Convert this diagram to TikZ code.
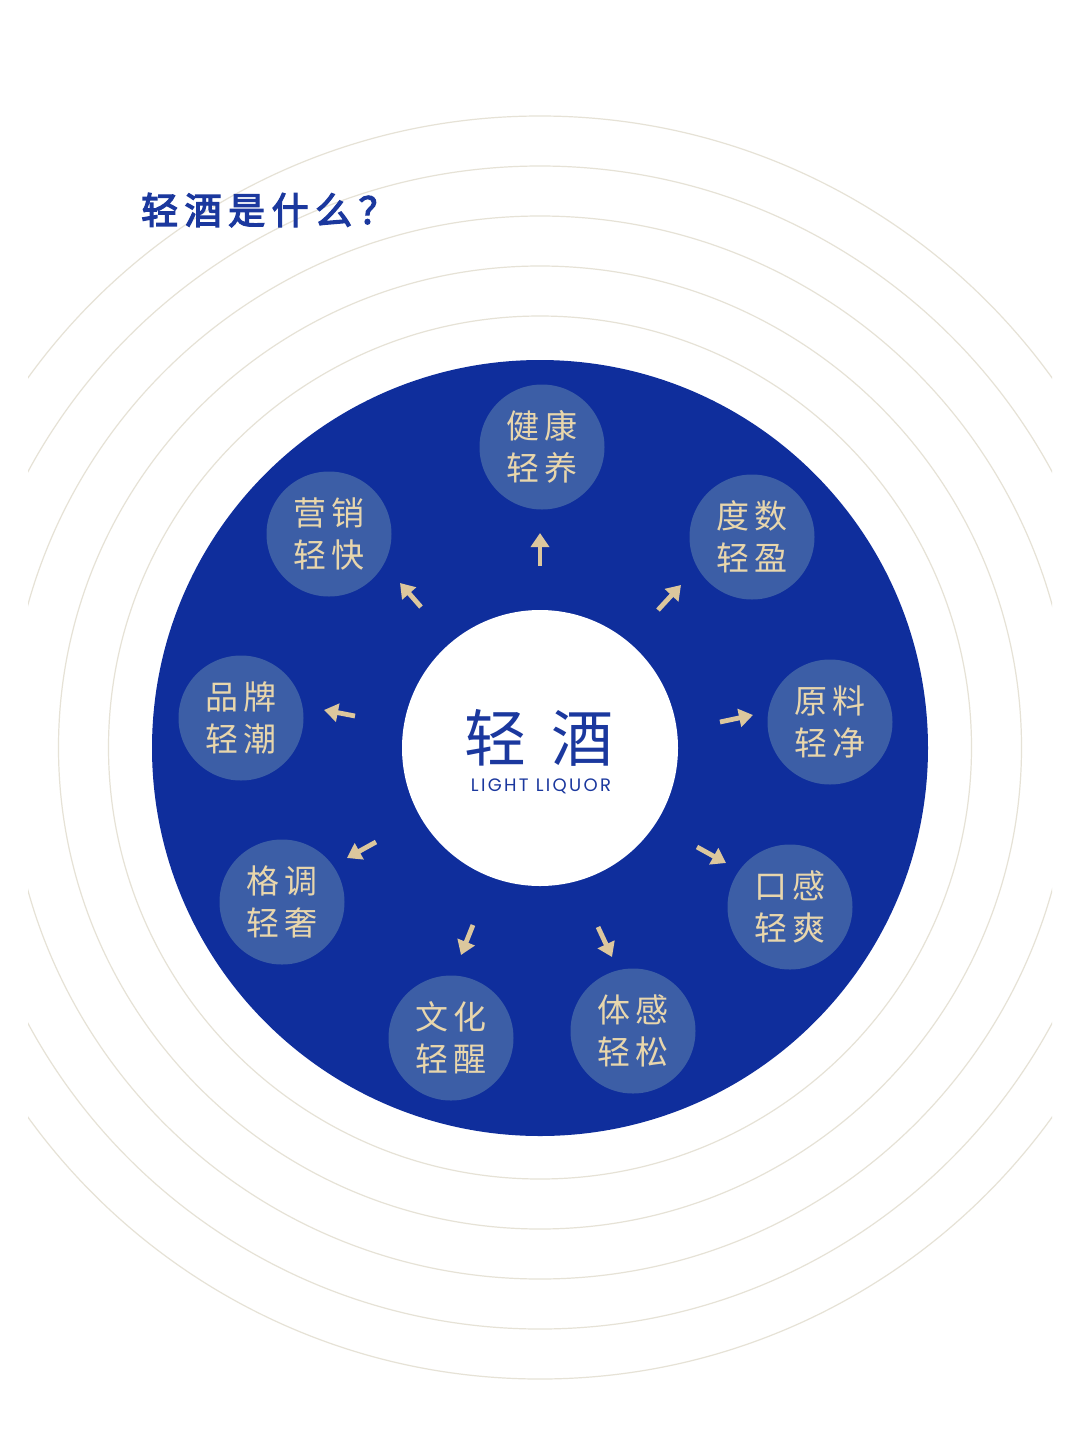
\documentclass[tikz,border=0pt]{standalone}
\usepackage{fontspec}
\usetikzlibrary{arrows.meta}
\newfontfamily\cjk{Noto Sans CJK SC}
\newfontfamily\cjkbold[FakeBold=3.5]{Noto Sans CJK SC}
\newfontfamily\latinf[LetterSpace=13]{Poppins}
\definecolor{deepblue}{HTML}{0F2E9C}
\definecolor{satblue}{HTML}{3C5EA6}
\definecolor{beige}{HTML}{E8D6AC}
\definecolor{arrbeige}{HTML}{DCC79D}
\definecolor{ringc}{HTML}{E6E2D6}
\definecolor{titleblue}{HTML}{1B389E}
\newcommand{\cgap}{\hspace{5pt}}
\newcommand{\tgap}{\hspace{6.5pt}}
\begin{document}
\begin{tikzpicture}[x=1pt,y=-1pt,
  sat/.style={circle, fill=satblue, minimum size=125pt, inner sep=0pt, text=beige,
    font=\cjk\fontsize{33}{42}\selectfont, align=center},
  arr/.style={draw=arrbeige, line width=4.8pt, -{Triangle[width=18pt,length=14pt]}},
  ring/.style={draw=ringc, line width=1.2pt}]
\useasboundingbox (0,0) rectangle (1080,1441);
\fill[white] (0,0) rectangle (1080,1441);
\begin{scope}
  \clip (28,0) rectangle (1052,1441);
  \foreach \r in {431.5,481.5,531.5,581.5,631.5}
    \draw[ring] (540,747.5) circle[radius=\r];
\end{scope}
% title
\node[anchor=west, inner sep=0pt, text=titleblue, font=\cjkbold\fontsize{37}{40}\selectfont] (title) at (141,210)
  {轻\tgap 酒\tgap 是\tgap 什\tgap 么\tgap ？};
% disc
\node[circle, fill=deepblue, minimum size=776pt, inner sep=0pt] (disc) at (540,748) {};
\node[circle, fill=white, minimum size=276pt, inner sep=0pt] (core) at (540,748) {};
\node[inner sep=0pt, text=titleblue, font=\cjk\fontsize{62}{62}\selectfont] (zh) at (539,738) {轻\hspace{25pt}酒};
\node[inner sep=0pt, text=titleblue, font=\latinf\fontsize{18}{18}\selectfont] (en) at (541,786) {LIGHT LIQUOR};
% satellites
\node[sat] (s1) at (542,447) {健\cgap 康\\轻\cgap 养};
\node[sat] (s2) at (752,537) {度\cgap 数\\轻\cgap 盈};
\node[sat] (s3) at (830,722) {原\cgap 料\\轻\cgap 净};
\node[sat] (s4) at (790,907) {口\cgap 感\\轻\cgap 爽};
\node[sat] (s5) at (633,1031) {体\cgap 感\\轻\cgap 松};
\node[sat] (s6) at (451,1038) {文\cgap 化\\轻\cgap 醒};
\node[sat] (s7) at (282,902) {格\cgap 调\\轻\cgap 奢};
\node[sat] (s8) at (241,718) {品\cgap 牌\\轻\cgap 潮};
\node[sat] (s9) at (329,534) {营\cgap 销\\轻\cgap 快};
% arrows
\coordinate (a1s) at (540,566); \coordinate (a1e) at (540,533);
\coordinate (a2s) at (658,610); \coordinate (a2e) at (681,585);
\coordinate (a3s) at (720,722); \coordinate (a3e) at (753,715);
\coordinate (a4s) at (697,847); \coordinate (a4e) at (726,863);
\coordinate (a5s) at (598,927); \coordinate (a5e) at (612,957);
\coordinate (a6s) at (473,925); \coordinate (a6e) at (461,955);
\coordinate (a7s) at (376,842); \coordinate (a7e) at (347,858);
\coordinate (a8s) at (355,716); \coordinate (a8e) at (324,710);
\coordinate (a9s) at (421,607); \coordinate (a9e) at (400,583);
\foreach \i in {1,...,9} \draw[arr] (a\i s) -- (a\i e);
\end{tikzpicture}
\end{document}
